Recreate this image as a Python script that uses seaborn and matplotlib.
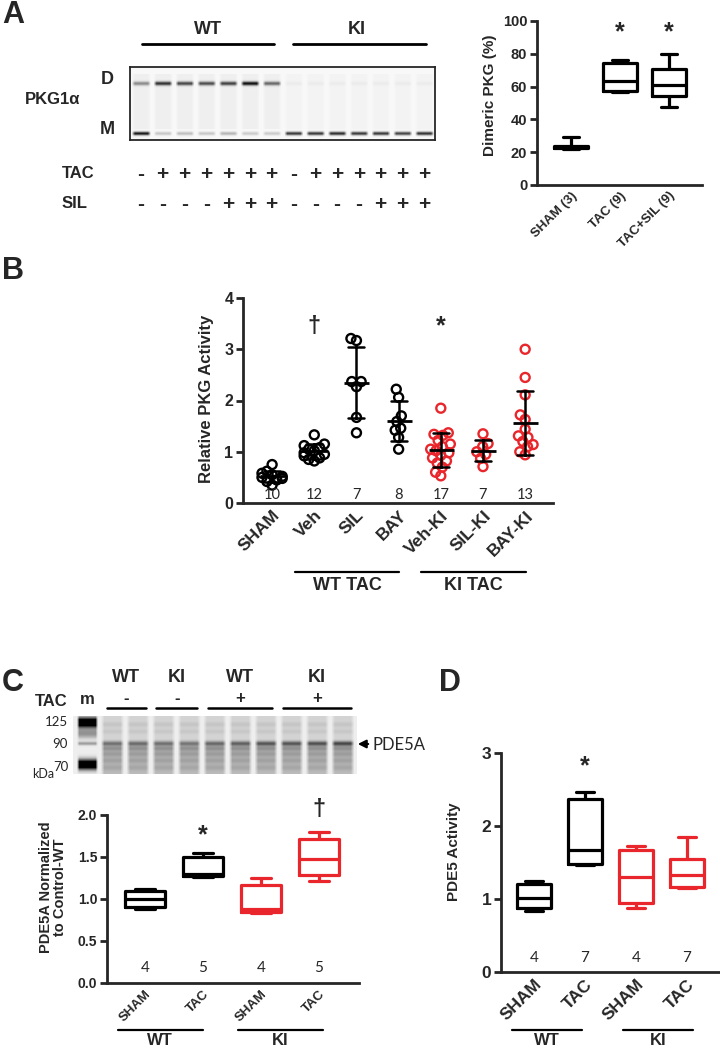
import numpy as np
import pandas as pd
import matplotlib
matplotlib.use('Agg')
import matplotlib.pyplot as plt
import matplotlib.transforms as mtransforms
import seaborn as sns

# ---------------- data ----------------
# panel A western blot: band darkness per lane (dimer D, monomer M)
blot_a_dimer = [0.45, 0.85, 0.75, 0.72, 0.78, 1.0, 0.6, 0.04, 0.04, 0.04, 0.04, 0.04, 0.04, 0.04]
blot_a_mono = [1.0, 0.22, 0.25, 0.22, 0.3, 0.2, 0.2, 0.85, 0.85, 0.9, 0.85, 0.85, 0.8, 0.88]
blot_a_tac = ['-', '+', '+', '+', '+', '+', '+', '-', '+', '+', '+', '+', '+', '+']
blot_a_sil = ['-', '-', '-', '-', '+', '+', '+', '-', '-', '-', '-', '+', '+', '+']

# panel A box plot (min, q1, median, q3, max)
dimer_labels = ['SHAM (3)', 'TAC (9)', 'TAC+SIL (9)']
dimer_stats = [[22, 22.5, 23, 23.5, 29.5],
               [57, 57.5, 63.5, 74.5, 76],
               [47.5, 54, 61, 71, 80]]

# panel B: relative PKG activity
pkg_labels = ['SHAM', 'Veh', 'SIL', 'BAY', 'Veh-KI', 'SIL-KI', 'BAY-KI']
pkg_sham = [0.75, 0.62, 0.58, 0.55, 0.52, 0.5, 0.48, 0.45, 0.42, 0.35]
pkg_veh = [1.33, 1.15, 1.12, 1.08, 1.05, 1.02, 0.98, 0.95, 0.92, 0.88, 0.85, 0.82]
pkg_sil = [3.21, 3.17, 2.37, 2.37, 2.27, 1.67, 1.37]
pkg_bay = [2.22, 2.06, 1.70, 1.59, 1.46, 1.42, 1.28, 1.05]
pkg_veh_ki = [1.85, 1.37, 1.34, 1.32, 1.22, 1.15, 1.10, 1.05, 1.02, 0.98, 0.93, 0.88, 0.82, 0.78, 0.70, 0.60, 0.53]
pkg_sil_ki = [1.35, 1.16, 1.10, 1.00, 0.95, 0.87, 0.71]
pkg_bay_ki = [3.0, 2.45, 2.11, 1.72, 1.63, 1.44, 1.31, 1.28, 1.20, 1.14, 1.10, 1.0, 0.94]
pkg_n = [10, 12, 7, 8, 17, 7, 13]

# panel C blot: PDE5A band darkness per sample lane
blot_c_pde5a = [0.3, 0.32, 0.3, 0.28, 0.33, 0.36, 0.4, 0.4, 0.42, 0.46]

# panel C box plot
pde5a_labels = ['SHAM', 'TAC', 'SHAM', 'TAC']
pde5a_stats = [[0.88, 0.9, 1.0, 1.1, 1.12],
               [1.26, 1.27, 1.3, 1.5, 1.55],
               [0.83, 0.84, 0.88, 1.17, 1.25],
               [1.22, 1.29, 1.48, 1.72, 1.8]]
pde5a_n = [4, 5, 4, 5]

# panel D box plot
pde5_labels = ['SHAM', 'TAC', 'SHAM', 'TAC']
pde5_stats = [[0.83, 0.87, 1.02, 1.2, 1.25],
              [1.47, 1.48, 1.67, 2.37, 2.47],
              [0.88, 0.95, 1.3, 1.67, 1.73],
              [1.15, 1.17, 1.33, 1.55, 1.85]]
pde5_n = [4, 7, 4, 7]

RED = '#e8262b'
BOLD = 'Liberation Sans'
THIN = 'Lato'

sns.set_style('ticks')
plt.rcParams['font.family'] = [BOLD, 'DejaVu Sans']
plt.rcParams['font.weight'] = 'bold'

fig = plt.figure(figsize=(7.2, 10.5), dpi=100)

# overlay in pixel coordinates for free text
ov = fig.add_axes([0, 0, 1, 1])
ov.set_xlim(0, 720)
ov.set_ylim(1050, 0)
ov.axis('off')


def px_axes(x0, y0, x1, y1):
    return fig.add_axes([x0 / 720, 1 - y1 / 1050, (x1 - x0) / 720, (y1 - y0) / 1050])


def style_axes(ax, fs):
    sns.despine(ax=ax)
    ax.spines['left'].set_linewidth(2)
    ax.spines['bottom'].set_linewidth(2)
    ax.tick_params(axis='y', width=2, length=5, labelsize=fs, pad=2)
    ax.tick_params(axis='x', length=0)
    ax.set_xlabel('')
    for t in ax.get_yticklabels():
        t.set_fontweight('bold')


def set_ylabel_px(ax, text, x_px, yfrac, fs):
    # place y label by its centre, in figure pixels
    tr = mtransforms.blended_transform_factory(fig.transFigure, ax.transAxes)
    ax.set_ylabel('')
    ax.text(x_px / 720, yfrac, text, transform=tr, rotation=90, ha='center', va='center',
            fontsize=fs, fontweight='bold', linespacing=1.0)


def box_panel(ax, keys, stats, colors):
    df = pd.DataFrame({'grp': np.repeat(keys, 5), 'val': np.concatenate(stats)})
    sns.boxplot(data=df, x='grp', y='val', hue='grp', palette=colors, fill=False,
                whis=(0, 100), width=0.68, linewidth=2.3, showfliers=False,
                legend=False, ax=ax)


def group_line(ax, x0, x1, y, text, fs, ty):
    tr = mtransforms.blended_transform_factory(ax.transData, ax.transAxes)
    ax.plot([x0, x1], [y, y], color='black', lw=1.6, transform=tr, clip_on=False)
    ax.text((x0 + x1) / 2, ty, text, transform=tr, ha='center', va='top',
            fontsize=fs, fontweight='bold')


# ---------------- panel A blot ----------------
H, W = 73, 305
yy = np.arange(H)[:, None]
xx = np.arange(W)[None, :]
lane_w = W / 14
img = np.full((H, W), 0.97)
for i in range(14):
    cx = (i + 0.5) * lane_w
    mask = np.clip(1 - (np.abs(xx - cx) - 6.5) / 3.0, 0, 1)
    band = (blot_a_dimer[i] * np.exp(-((yy - 16) / 2.0) ** 2)
            + blot_a_mono[i] * np.exp(-((yy - 66) / 1.8) ** 2))
    smear = 0.035 * ((yy > 6) & (yy < 62)) * (1 if i < 7 else 0.5)
    img = img - mask * (0.85 * band + smear)
ax_ba = px_axes(130, 67, 435, 140)
ax_ba.imshow(np.clip(img, 0, 1), cmap='gray', vmin=0, vmax=1, aspect='auto', interpolation='bilinear')
ax_ba.set_xticks([])
ax_ba.set_yticks([])
for s in ax_ba.spines.values():
    s.set_linewidth(1.3)

ov.text(2, 15, 'A', fontsize=22, fontweight='bold', va='center')
ov.text(208, 29, 'WT', fontsize=13, fontweight='bold', ha='center', va='center')
ov.text(357, 29, 'KI', fontsize=13, fontweight='bold', ha='center', va='center')
ov.plot([142, 274], [44, 44], color='black', lw=2)
ov.plot([293, 426], [44, 44], color='black', lw=2)
ov.text(107, 80, 'D', fontsize=13, fontweight='bold', ha='center', va='center')
ov.text(107, 130, 'M', fontsize=13, fontweight='bold', ha='center', va='center')
ov.text(53, 100, 'PKG1α', fontsize=12, fontweight='bold', ha='center', va='center')
ov.text(78, 174, 'TAC', fontsize=12, fontweight='bold', ha='center', va='center')
ov.text(75, 204, 'SIL', fontsize=12, fontweight='bold', ha='center', va='center')
for i in range(14):
    x = 130 + (i + 0.5) * lane_w
    ov.text(x, 175, blot_a_tac[i], fontsize=15, fontweight='bold', ha='center', va='center')
    ov.text(x, 205, blot_a_sil[i], fontsize=15, fontweight='bold', ha='center', va='center')

# ---------------- panel A box plot ----------------
ax_a = px_axes(537, 21, 702, 185)
box_panel(ax_a, dimer_labels, dimer_stats, ['black'] * 3)
ax_a.set_ylim(0, 100)
ax_a.set_yticks([0, 20, 40, 60, 80, 100])
ax_a.set_xlim(-0.69, 2.67)
style_axes(ax_a, 10.5)
ax_a.set_xticks(range(3))
ax_a.set_xticklabels(dimer_labels, rotation=45, ha='right', rotation_mode='anchor',
                     fontsize=9.5, fontweight='bold')
set_ylabel_px(ax_a, 'Dimeric PKG (%)', 490, 0.55, 11)
for i in [1, 2]:
    ax_a.text(i, 93, '*', ha='center', va='center', fontsize=18, fontweight='bold')

# ---------------- panel B ----------------
pkg_values = [pkg_sham, pkg_veh, pkg_sil, pkg_bay, pkg_veh_ki, pkg_sil_ki, pkg_bay_ki]
df_b = pd.DataFrame({'grp': np.repeat(pkg_labels, [len(v) for v in pkg_values]),
                     'val': np.concatenate(pkg_values)})
pal_b = {g: ('black' if i < 4 else RED) for i, g in enumerate(pkg_labels)}
ax_b = px_axes(243, 298, 553, 503)
ax_b.set_xlim(-0.69, 6.66)
ax_b.set_ylim(0, 4)
sns.swarmplot(data=df_b, x='grp', y='val', hue='grp', palette=pal_b, size=6.5,
              order=pkg_labels, legend=False, ax=ax_b)
ax_b.set_xlim(-0.69, 6.66)
ax_b.set_ylim(0, 4)
# swarm layout happens at draw time; redraw the points squeezed toward the
# category centre so they overlap like the original GraphPad scatter
fig.canvas.draw()
for c in list(ax_b.collections):
    off = np.asarray(c.get_offsets())
    if len(off) == 0:
        continue
    col = c.get_facecolor()[0]
    centre = np.round(off[:, 0].mean())
    xs = centre + 0.6 * (off[:, 0] - centre)
    c.remove()
    ax_b.scatter(xs, off[:, 1], s=42, facecolors='none', edgecolors=[col],
                 linewidths=1.7, zorder=2)
sns.pointplot(data=df_b, x='grp', y='val', order=pkg_labels, errorbar='sd', color='black',
              linestyle='none', markers='_', markersize=18, markeredgewidth=2,
              capsize=0.38, err_kws={'linewidth': 1.8}, ax=ax_b)
ax_b.set_ylim(0, 4)
ax_b.set_yticks([0, 1, 2, 3, 4])
ax_b.set_xlim(-0.69, 6.66)
style_axes(ax_b, 11.5)
ax_b.set_xticks(range(7))
ax_b.set_xticklabels(pkg_labels, rotation=45, ha='right', rotation_mode='anchor',
                     fontsize=12.5, fontweight='bold')
set_ylabel_px(ax_b, 'Relative PKG Activity', 206, 0.51, 12)
for i, n in enumerate(pkg_n):
    ax_b.text(i, 0.02, str(n), ha='center', va='bottom', fontsize=10.5,
              family=THIN, fontweight='normal')
ax_b.text(1, 3.45, '†', ha='center', va='center', fontsize=17, fontweight='bold')
ax_b.text(4, 3.45, '*', ha='center', va='center', fontsize=18, fontweight='bold')
group_line(ax_b, 0.55, 3.0, -0.337, 'WT TAC', 13, -0.36)
group_line(ax_b, 3.53, 6.02, -0.337, 'KI TAC', 13, -0.36)
ov.text(2, 271, 'B', fontsize=22, fontweight='bold', va='center')

# ---------------- panel C blot ----------------
H2, W2 = 58, 284
yy2 = np.arange(H2)[:, None]
xx2 = np.arange(W2)[None, :]
img2 = np.full((H2, W2), 0.93)
mk = np.clip(1 - (np.abs(xx2 - 14) - 8) / 2.5, 0, 1)
mk_band = (1.3 * np.exp(-((yy2 - 6) / 5.0) ** 2) + 0.35 * np.exp(-((yy2 - 17) / 5.0) ** 2)
           + 0.3 * np.exp(-((yy2 - 27) / 1.8) ** 2) + 1.3 * np.exp(-((yy2 - 48) / 5.0) ** 2))
img2 = img2 - mk * np.clip(mk_band, 0, 0.93)
for i in range(10):
    cx = 39 + i * 25.6
    mask = np.clip(1 - (np.abs(xx2 - cx) - 8.0) / 3.5, 0, 1)
    prof = (0.1 + 0.06 * np.exp(-((yy2 - 8) / 2.6) ** 2)
            + 0.05 * np.exp(-((yy2 - 15) / 2.6) ** 2)
            + blot_c_pde5a[i] * np.exp(-((yy2 - 27) / 2.3) ** 2)
            + 0.16 * np.exp(-((yy2 - 32) / 2.5) ** 2)
            + 0.12 * np.exp(-((yy2 - 37.5) / 2.8) ** 2)
            + 0.1 * np.exp(-((yy2 - 44) / 3.0) ** 2)
            + 0.08 * np.exp(-((yy2 - 51) / 3.0) ** 2)
            + 0.1 * np.clip((yy2 - 22) / 6, 0, 1))
    img2 = img2 - mask * prof
ax_bc = px_axes(73, 716, 357, 774)
ax_bc.imshow(np.clip(img2, 0, 1), cmap='gray', vmin=0, vmax=1, aspect='auto', interpolation='bilinear')
ax_bc.axis('off')

ov.text(2, 683, 'C', fontsize=22, fontweight='bold', va='center')
ov.text(439, 683, 'D', fontsize=22, fontweight='bold', va='center')
ov.text(51, 701, 'TAC', fontsize=12, fontweight='bold', ha='center', va='center')
ov.text(87, 699, 'm', fontsize=12, fontweight='bold', ha='center', va='center')
for x, g, s in [(126, 'WT', '-'), (177, 'KI', '-'), (240, 'WT', '+'), (317, 'KI', '+')]:
    ov.text(x, 677, g, fontsize=13, fontweight='bold', ha='center', va='center')
    ov.text(x, 699, s, fontsize=12, fontweight='bold', ha='center', va='center')
for x0, x1 in [(107, 146), (156, 197), (208, 272), (283, 351)]:
    ov.plot([x0, x1], [708, 708], color='black', lw=1.8)
for y, t in [(722, '125'), (744, '90'), (767, '70')]:
    ov.text(68, y, t, fontsize=9.5, family=THIN, fontweight='normal', ha='right', va='center')
ov.text(54, 774, 'kDa', fontsize=9, family=THIN, fontweight='normal', ha='right', va='center')
ov.annotate('', xy=(355, 744), xytext=(371, 744),
            arrowprops=dict(arrowstyle='-|>', color='black', lw=1.5, mutation_scale=12))
ov.text(373, 745, 'PDE5A', fontsize=12, family=THIN, fontweight='normal', ha='left', va='center')

# ---------------- panel C box plot ----------------
keys_c = ['WT SHAM', 'WT TAC', 'KI SHAM', 'KI TAC']
ax_c = px_axes(107, 815, 359, 983)
box_panel(ax_c, keys_c, pde5a_stats, ['black', 'black', RED, RED])
ax_c.set_ylim(0, 2)
ax_c.set_yticks([0, 0.5, 1.0, 1.5, 2.0])
ax_c.set_yticklabels(['0.0', '0.5', '1.0', '1.5', '2.0'])
ax_c.set_xlim(-0.655, 3.69)
style_axes(ax_c, 10)
ax_c.set_xticks(range(4))
ax_c.set_xticklabels(pde5a_labels, rotation=45, ha='right', rotation_mode='anchor',
                     fontsize=9.5, fontweight='bold')
set_ylabel_px(ax_c, 'PDE5A Normalized\nto Control-WT', 53, 0.57, 10.5)
for i, n in enumerate(pde5a_n):
    ax_c.text(i, 0.1, str(n), ha='center', va='bottom', fontsize=11,
              family=THIN, fontweight='normal')
ax_c.text(1, 1.76, '*', ha='center', va='center', fontsize=18, fontweight='bold')
ax_c.text(3, 2.06, '†', ha='center', va='center', fontsize=17, fontweight='bold')
group_line(ax_c, -0.47, 1.0, -0.28, 'WT', 12, -0.295)
group_line(ax_c, 1.6, 3.07, -0.28, 'KI', 12, -0.295)

# ---------------- panel D box plot ----------------
ax_d = px_axes(501, 753, 720, 972)
box_panel(ax_d, keys_c, pde5_stats, ['black', 'black', RED, RED])
ax_d.set_ylim(0, 3)
ax_d.set_yticks([0, 1, 2, 3])
ax_d.set_xlim(-0.65, 3.65)
style_axes(ax_d, 12.5)
ax_d.set_xticks(range(4))
ax_d.set_xticklabels(pde5_labels, rotation=45, ha='right', rotation_mode='anchor',
                     fontsize=12.5, fontweight='bold')
set_ylabel_px(ax_d, 'PDE5 Activity', 454, 0.55, 11)
for i, n in enumerate(pde5_n):
    ax_d.text(i, 0.1, str(n), ha='center', va='bottom', fontsize=11,
              family=THIN, fontweight='normal')
ax_d.text(1, 2.82, '*', ha='center', va='center', fontsize=18, fontweight='bold')
group_line(ax_d, -0.43, 0.94, -0.265, 'WT', 12, -0.28)
group_line(ax_d, 1.75, 3.12, -0.265, 'KI', 12, -0.28)

fig.savefig('out.png', dpi=100)
